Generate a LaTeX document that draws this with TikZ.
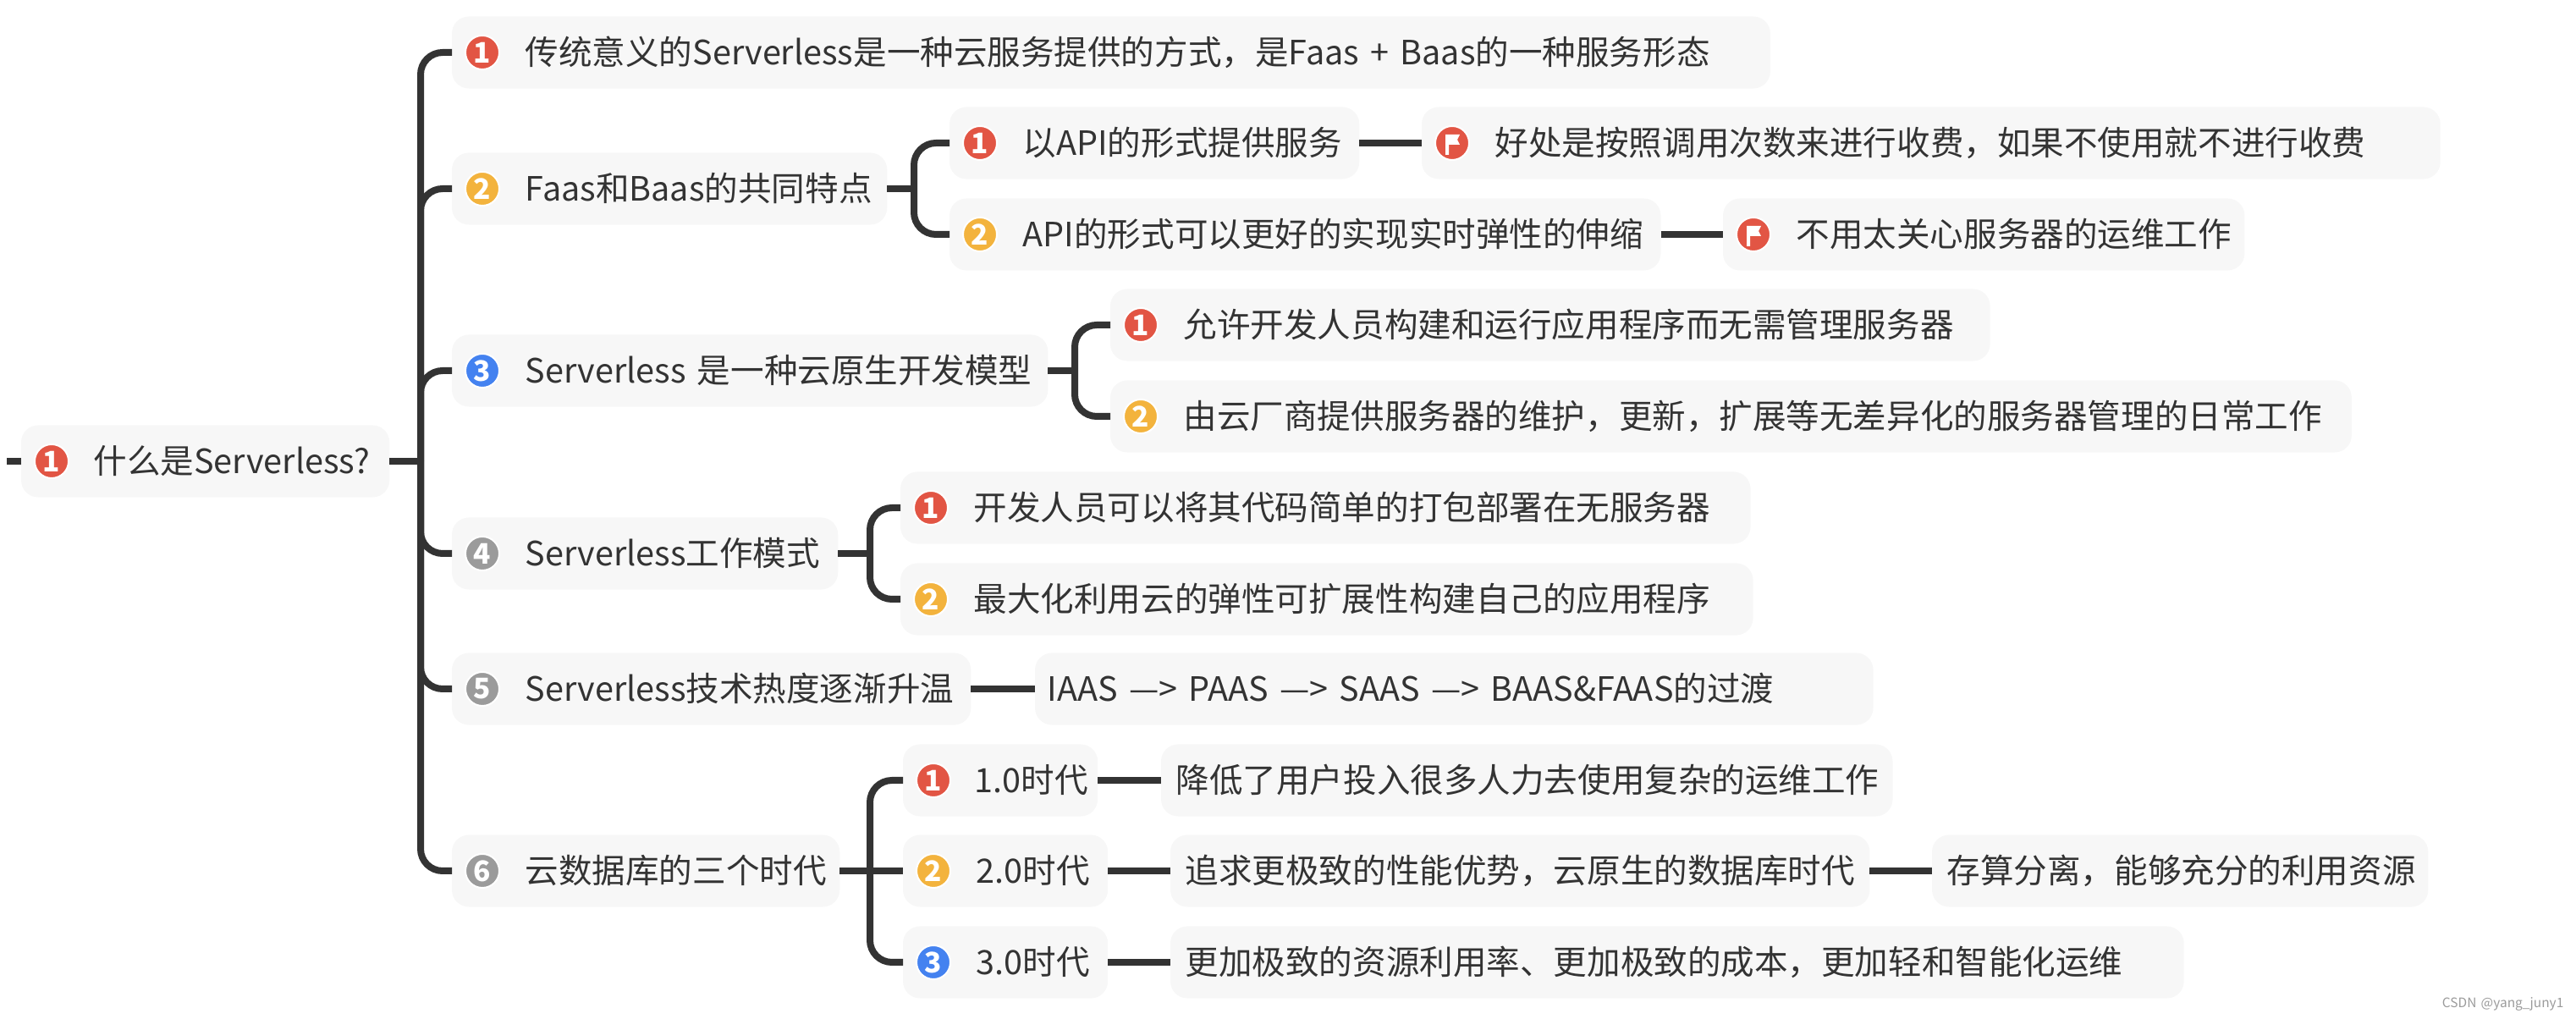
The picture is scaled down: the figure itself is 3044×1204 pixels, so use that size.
\documentclass[tikz,border=0pt]{standalone}
\usepackage{fontspec}
\setmainfont[WordSpace=1.5]{Noto Sans CJK SC}
\definecolor{boxgray}{HTML}{F7F7F7}
\definecolor{linedark}{HTML}{333333}
\definecolor{markred}{HTML}{E25544}
\definecolor{markyellow}{HTML}{F3B33D}
\definecolor{markblue}{HTML}{4482F0}
\definecolor{markgray}{HTML}{9B9B9B}
\tikzset{
  topicbox/.style={fill=boxgray,rounded corners=.2cm,anchor=west,minimum height=.85cm,inner sep=0pt,outer sep=0pt},
  topictext/.style={anchor=west,inner sep=0pt,text=linedark,font=\fontsize{11.25pt}{13pt}\selectfont,text height=.37cm,text depth=.08cm},
  badge/.style={circle,draw=white,line width=.02cm,minimum size=.4cm,inner sep=0pt,text=white,font=\fontsize{9.5pt}{10pt}\selectfont\bfseries},
  flagbadge/.style={badge,fill=markred,path picture={
      \fill[white] ([shift={(-8,-10)}]path picture bounding box.center) -- ++(17,0) -- ++(-3,6) -- ++(3,6) -- ++(-13,0) -- ++(0,12) -- ++(-4,0) -- cycle;}},
  link/.style={draw=linedark,line width=.08cm},
  bracket/.style={link,rounded corners=.26cm},
}
\begin{document}
\begin{tikzpicture}[x=.01cm,y=-.01cm]
  \useasboundingbox (0,0) rectangle (3044,1204);
  % junctions on the spines
  \coordinate (rootstub) at (8,545);
  \coordinate (rootjoin) at (497,545);
  \coordinate (faasjoin) at (1080,223);
  \coordinate (nativejoin) at (1270,438);
  \coordinate (modejoin) at (1028,654);
  \coordinate (erajoin) at (1028,1029);

  % root
  \node[topicbox,minimum width=4.35cm] (root) at (25,545) {};
  \node[badge,fill=markred] (rootmark) at (61,545) {1};
  \node[topictext] (roottext) at (110,545) {什么是Serverless?};

  % first level
  \node[topicbox,minimum width=15.57cm] (t1) at (534,62) {};
  \node[badge,fill=markred] (t1mark) at (570,62) {1};
  \node[topictext] (t1text) at (620,62) {传统意义的Serverless是一种云服务提供的方式，是Faas + Baas的一种服务形态};
  \node[topicbox,minimum width=5.14cm] (t2) at (534,223) {};
  \node[badge,fill=markyellow] (t2mark) at (570,223) {2};
  \node[topictext] (t2text) at (620,223) {Faas和Baas的共同特点};
  \node[topicbox,minimum width=7.04cm] (t3) at (534,438) {};
  \node[badge,fill=markblue] (t3mark) at (570,438) {3};
  \node[topictext] (t3text) at (620,438) {Serverless 是一种云原生开发模型};
  \node[topicbox,minimum width=4.56cm] (t4) at (534,654) {};
  \node[badge,fill=markgray] (t4mark) at (570,654) {4};
  \node[topictext] (t4text) at (620,654) {Serverless工作模式};
  \node[topicbox,minimum width=6.13cm] (t5) at (534,814) {};
  \node[badge,fill=markgray] (t5mark) at (570,814) {5};
  \node[topictext] (t5text) at (620,814) {Serverless技术热度逐渐升温};
  \node[topicbox,minimum width=4.58cm] (t6) at (534,1029) {};
  \node[badge,fill=markgray] (t6mark) at (570,1029) {6};
  \node[topictext] (t6text) at (620,1029) {云数据库的三个时代};

  % second level
  \node[topicbox,minimum width=4.84cm] (api1) at (1122,169) {};
  \node[badge,fill=markred] (api1mark) at (1158,169) {1};
  \node[topictext] (api1text) at (1208,169) {以API的形式提供服务};
  \node[topicbox,minimum width=12.03cm] (fee) at (1680,169) {};
  \node[flagbadge] (feemark) at (1716,169) {};
  \node[topictext] (feetext) at (1766,169) {好处是按照调用次数来进行收费，如果不使用就不进行收费};
  \node[topicbox,minimum width=8.40cm] (api2) at (1122,277) {};
  \node[badge,fill=markyellow] (api2mark) at (1158,277) {2};
  \node[topictext] (api2text) at (1208,277) {API的形式可以更好的实现实时弹性的伸缩};
  \node[topicbox,minimum width=6.16cm] (ops) at (2036,277) {};
  \node[flagbadge] (opsmark) at (2072,277) {};
  \node[topictext] (opstext) at (2122,277) {不用太关心服务器的运维工作};

  \node[topicbox,minimum width=10.39cm] (dev) at (1312,384) {};
  \node[badge,fill=markred] (devmark) at (1348,384) {1};
  \node[topictext] (devtext) at (1398,384) {允许开发人员构建和运行应用程序而无需管理服务器};
  \node[topicbox,minimum width=14.66cm] (vendor) at (1312,492) {};
  \node[badge,fill=markyellow] (vendormark) at (1348,492) {2};
  \node[topictext] (vendortext) at (1398,492) {由云厂商提供服务器的维护，更新，扩展等无差异化的服务器管理的日常工作};

  \node[topicbox,minimum width=10.04cm] (pack) at (1064,600) {};
  \node[badge,fill=markred] (packmark) at (1100,600) {1};
  \node[topictext] (packtext) at (1150,600) {开发人员可以将其代码简单的打包部署在无服务器};
  \node[topicbox,minimum width=10.07cm] (scale) at (1064,708) {};
  \node[badge,fill=markyellow] (scalemark) at (1100,708) {2};
  \node[topictext] (scaletext) at (1150,708) {最大化利用云的弹性可扩展性构建自己的应用程序};

  \node[topicbox,minimum width=9.90cm] (iaas) at (1223,814) {};
  \node[topictext] (iaastext) at (1237,814) {IAAS —> PAAS —> SAAS —> BAAS\&FAAS的过渡};

  \node[topicbox,minimum width=2.30cm] (era1) at (1067,922) {};
  \node[badge,fill=markred] (era1mark) at (1103,922) {1};
  \node[topictext] (era1text) at (1151,922) {1.0时代};
  \node[topicbox,minimum width=8.64cm] (era1note) at (1372,922) {};
  \node[topictext] (era1notetext) at (1389,922) {降低了用户投入很多人力去使用复杂的运维工作};
  \node[topicbox,minimum width=2.42cm] (era2) at (1067,1029) {};
  \node[badge,fill=markyellow] (era2mark) at (1103,1029) {2};
  \node[topictext] (era2text) at (1153,1029) {2.0时代};
  \node[topicbox,minimum width=8.26cm] (era2note) at (1383,1029) {};
  \node[topictext] (era2notetext) at (1400,1029) {追求更极致的性能优势，云原生的数据库时代};
  \node[topicbox,minimum width=5.86cm] (split) at (2283,1029) {};
  \node[topictext] (splittext) at (2300,1029) {存算分离，能够充分的利用资源};
  \node[topicbox,minimum width=2.42cm] (era3) at (1067,1137) {};
  \node[badge,fill=markblue] (era3mark) at (1103,1137) {3};
  \node[topictext] (era3text) at (1153,1137) {3.0时代};
  \node[topicbox,minimum width=11.97cm] (era3note) at (1383,1137) {};
  \node[topictext] (era3notetext) at (1400,1137) {更加极致的资源利用率、更加极致的成本，更加轻和智能化运维};

  % connectors
  \draw[link] (rootstub) -- (root.west);
  \draw[link] (root.east) -- (rootjoin);
  \foreach \child in {t1,t2,t3,t4,t5,t6}
    \draw[bracket] (rootjoin) |- (\child.west);
  \draw[link] (t2.east) -- (faasjoin);
  \draw[bracket] (faasjoin) |- (api1.west);
  \draw[bracket] (faasjoin) |- (api2.west);
  \draw[link] (api1.east) -- (fee.west);
  \draw[link] (api2.east) -- (ops.west);
  \draw[link] (t3.east) -- (nativejoin);
  \draw[bracket] (nativejoin) |- (dev.west);
  \draw[bracket] (nativejoin) |- (vendor.west);
  \draw[link] (t4.east) -- (modejoin);
  \draw[bracket] (modejoin) |- (pack.west);
  \draw[bracket] (modejoin) |- (scale.west);
  \draw[link] (t5.east) -- (iaas.west);
  \draw[link] (t6.east) -- (erajoin);
  \draw[bracket] (erajoin) |- (era1.west);
  \draw[link] (erajoin) -- (era2.west);
  \draw[bracket] (erajoin) |- (era3.west);
  \draw[link] (era1.east) -- (era1note.west);
  \draw[link] (era2.east) -- (era2note.west);
  \draw[link] (era3.east) -- (era3note.west);
  \draw[link] (era2note.east) -- (split.west);

  \node[anchor=east,inner sep=0pt,text=markgray,font=\fontsize{4.4pt}{5pt}\selectfont] (stamp) at (3030,1186) {CSDN @yang\_juny1};
\end{tikzpicture}
\end{document}
